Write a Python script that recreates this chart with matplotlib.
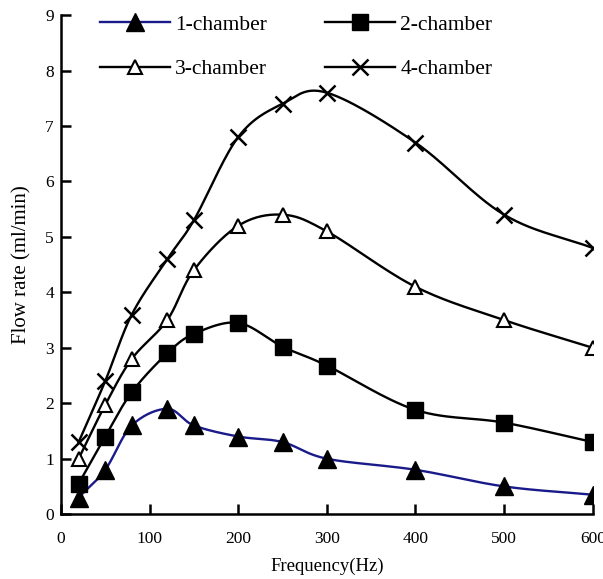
# -*- coding: utf-8 -*-

import numpy as np
import matplotlib
matplotlib.use('Agg')
import matplotlib.pyplot as plt

plt.rcParams['font.family'] = ['Liberation Serif', 'DejaVu Serif']

freq = [20, 50, 80, 120, 150, 200, 250, 300, 400, 500, 600]
ch1 = [0.3, 0.8, 1.6, 1.9, 1.6, 1.4, 1.3, 1.0, 0.8, 0.5, 0.35]
ch2 = [0.55, 1.4, 2.2, 2.9, 3.25, 3.45, 3.02, 2.68, 1.88, 1.65, 1.3]
ch3 = [1.0, 1.97, 2.8, 3.5, 4.4, 5.2, 5.4, 5.1, 4.1, 3.5, 3.0]
ch4 = [1.3, 2.4, 3.6, 4.6, 5.3, 6.8, 7.4, 7.6, 6.7, 5.4, 4.8]
labels = ['1-chamber', '2-chamber', '3-chamber', '4-chamber']


def smooth(x, y, n=30):
    # catmull-rom like excel "smoothed line"
    x = np.asarray(x, float)
    y = np.asarray(y, float)
    px = np.concatenate([[2 * x[0] - x[1]], x, [2 * x[-1] - x[-2]]])
    py = np.concatenate([[2 * y[0] - y[1]], y, [2 * y[-1] - y[-2]]])
    xs, ys = [], []
    t = np.linspace(0, 1, n)
    for i in range(1, len(px) - 2):
        p0, p1, p2, p3 = [np.array([px[j], py[j]]) for j in range(i - 1, i + 3)]
        b1 = p1 + (p2 - p0) / 6
        b2 = p2 - (p3 - p1) / 6
        pts = ((1 - t) ** 3)[:, None] * p1 + (3 * (1 - t) ** 2 * t)[:, None] * b1 \
            + (3 * (1 - t) * t ** 2)[:, None] * b2 + (t ** 3)[:, None] * p2
        xs.extend(pts[:, 0])
        ys.extend(pts[:, 1])
    return xs, ys


fig = plt.figure(figsize=(6.03, 5.79), dpi=100)
ax = fig.add_axes([0.101, 0.112, 0.882, 0.862])

styles = [
    dict(color='#1a1a8a', marker='^', mfc='black', mec='black', ms=13),
    dict(color='black', marker='s', mfc='black', mec='black', ms=11),
    dict(color='black', marker='^', mfc='white', mec='black', ms=10, mew=1.5),
    dict(color='black', marker='x', mfc='black', mec='black', ms=11, mew=1.8),
]
series = [ch1, ch2, ch3, ch4]
handles = []
for yv, st, lab in zip(series, styles, labels):
    sx, sy = smooth(freq, yv)
    ax.plot(sx, sy, color=st['color'], lw=1.7, zorder=2)
    ax.plot(freq, yv, ls='none', marker=st['marker'], mfc=st['mfc'],
            mec=st['mec'], ms=st['ms'], mew=st.get('mew', 1), zorder=3)
    h, = ax.plot([], [], color=st['color'], lw=1.7, marker=st['marker'],
                 mfc=st['mfc'], mec=st['mec'], ms=st['ms'], mew=st.get('mew', 1))
    handles.append(h)

ax.set_xlim(0, 600)
ax.set_ylim(0, 9)
ax.set_xticks(range(0, 601, 100))
ax.set_yticks(range(0, 10))
ax.spines['top'].set_visible(False)
ax.spines['right'].set_visible(False)
ax.spines['left'].set_linewidth(1.8)
ax.spines['bottom'].set_linewidth(1.8)
ax.tick_params(direction='in', length=7, width=1.8, labelsize=12.5)
ax.tick_params(axis='x', pad=12)
ax.tick_params(axis='y', pad=5)
ax.set_xlabel('Frequency(Hz)', fontsize=13.5, labelpad=8)
ax.set_ylabel('Flow rate (ml/min)', fontsize=15, labelpad=10)

# legend is filled column by column, so reorder to get 1,2 / 3,4 rows
order = [0, 2, 1, 3]
ax.legend([handles[i] for i in order], [labels[i] for i in order], ncol=2,
          frameon=False, loc='upper left', bbox_to_anchor=(0.054, 1.022),
          fontsize=15.5, handlelength=3.25, borderpad=0,
          labelspacing=1.13, columnspacing=2.7, handletextpad=0.23)

fig.savefig('out.png', dpi=100)
